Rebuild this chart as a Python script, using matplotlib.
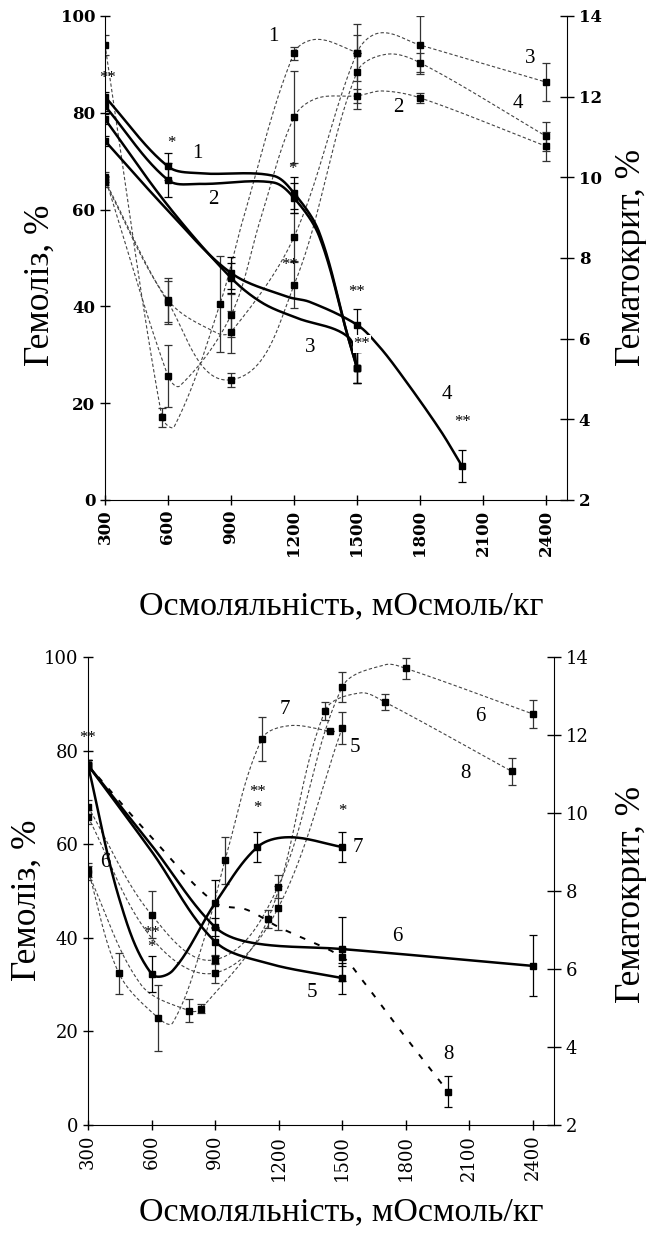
import numpy as np
import matplotlib
matplotlib.use("Agg")
import matplotlib.pyplot as plt

plt.rcParams['font.family'] = ['Liberation Serif', 'DejaVu Serif']

# points are (osmolality, value, sd); sd None -> curve knot without a marker
# upper panel, haemolysis, %
hem1 = [(300, 83.3, 1.0), (600, 68.9, 2.8), (750, 67.5, None), (1100, 67.0, None),
        (1200, 63.4, 3.3), (1320, 55.3, None), (1457, 33.7, None), (1500, 27.3, 3.2)]
hem2 = [(300, 81.4, 1.0), (600, 66.1, 3.5), (750, 65.3, None), (1100, 65.6, None),
        (1200, 62.4, 3.1), (1320, 54.5, None), (1457, 33.7, None), (1500, 27.3, 3.2)]
hem3 = [(300, 78.7, 1.0), (600, 60.8, None), (900, 45.9, 3.1), (1050, 40.7, None),
        (1214, 37.6, None), (1457, 33.7, None), (1500, 27.3, 3.2)]
hem4 = [(300, 74.2, 1.0), (600, 59.8, None), (900, 46.9, 3.3), (1167, 42.0, None),
        (1276, 40.9, None), (1500, 36.2, 3.3), (1600, 32.0, None), (1705, 26.2, None),
        (1895, 14.5, None), (2000, 7.0, 3.3)]

# upper panel, haematocrit, %
hct1 = [(300, 13.28, 0.24), (571, 4.05, 0.24), (630, 3.82, None), (848, 6.86, 1.2),
        (957, 8.95, None), (1200, 13.08, 0.16), (1310, 13.42, None), (1500, 13.09, 0)]
hct2 = [(300, 10.00, 0.12), (600, 5.07, 0.77), (657, 4.83, None), (900, 6.58, 0.53),
        (1040, 8.95, None), (1200, 11.49, 1.14), (1310, 11.96, None), (1500, 12.02, 0.18),
        (1620, 12.14, None), (1800, 11.97, 0.12), (2400, 10.77, 0.36)]
hct3 = [(300, 9.88, 0.12), (600, 6.96, 0.54), (833, 6.14, None), (900, 6.16, 0.52),
        (1200, 8.52, 0.6), (1500, 13.09, 0.7), (1610, 13.58, None), (1800, 13.28, 0.72),
        (2400, 12.36, 0.48)]
hct4 = [(300, 9.92, 0.12), (600, 6.90, 0.54), (900, 4.98, 0.17), (1200, 7.33, 0.56),
        (1500, 12.61, 0.92), (1640, 13.05, None), (1800, 12.84, 0.24), (2400, 11.02, 0.36)]

# lower panel, haemolysis, %
hem5 = [(300, 76.9, 1.0), (600, 58.5, None), (900, 39.2, 3.0), (1145, 34.6, None),
        (1500, 31.4, 3.3)]
hem6 = [(300, 76.9, 1.0), (600, 59.8, None), (900, 42.3, 2.0), (1080, 38.9, None),
        (1500, 37.6, 6.8), (2400, 34.0, 6.5)]
hem7 = [(300, 76.9, 1.0), (450, 48.0, None), (600, 32.3, 3.9), (700, 33.0, None),
        (900, 47.4, 5.0), (1100, 59.4, 3.3), (1250, 61.5, None), (1500, 59.4, 3.2)]
hem8 = [(300, 76.9, 1.0), (600, 61.5, None), (900, 47.5, None), (1050, 46.0, None),
        (1200, 42.3, None), (1500, 35.9, 2.0), (1584, 31.6, None), (1773, 20.3, None),
        (2000, 7.1, 3.3)]

# lower panel, haematocrit, %
hct5 = [(300, 9.90, 0.18), (600, 6.80, None), (900, 5.90, 0.26), (1197, 7.56, 0.56),
        (1500, 12.18, 0.42)]
hct6 = [(300, 10.16, 0.18), (600, 7.39, 0.6), (900, 6.24, 0.12), (1197, 8.11, 0.3),
        (1500, 13.23, 0.38), (1700, 13.80, None), (1800, 13.71, 0.26), (2400, 12.54, 0.36)]
hct7 = [(300, 8.54, 0.18), (446, 5.89, 0.52), (630, 4.75, 0.84), (700, 4.62, None),
        (850, 6.80, None), (947, 8.79, 0.6), (1121, 11.90, 0.56), (1250, 12.24, None),
        (1443, 12.10, 0)]
hct8 = [(300, 8.46, 0.18), (550, 5.60, None), (777, 4.93, 0.29), (834, 4.98, 0.12),
        (1150, 7.28, 0.24), (1419, 12.62, 0.23), (1584, 13.08, None), (1700, 12.85, 0.2),
        (2300, 11.07, 0.34)]

x_ticks = [300, 600, 900, 1200, 1500, 1800, 2100, 2400]
hem_ticks = [0, 20, 40, 60, 80, 100]
hct_ticks = [2, 4, 6, 8, 10, 12, 14]

# curve numbers and significance marks, placed in haemolysis coordinates
top_labels = [('1', 738, 71.5), ('2', 814, 62), ('1', 1100, 95.7), ('3', 2324, 91.3),
              ('4', 2267, 82), ('2', 1695, 81), ('3', 1276, 31.6), ('4', 1928, 21.7)]
top_stars = [('**', 312, 87.2), ('*', 614, 73.8), ('*', 1190, 68.3), ('**', 1181, 48.6),
             ('**', 1496, 43.0), ('**', 1524, 32.2), ('**', 2005, 16.1)]
bot_labels = [('6', 380, 56), ('7', 1230, 88.7), ('5', 1561, 80.6), ('6', 2151, 87.2),
              ('8', 2080, 75.2), ('7', 1575, 59.2), ('6', 1759, 40.2), ('5', 1358, 28.4),
              ('8', 2000, 15.0)]
bot_stars = [('**', 300, 82.7), ('**', 600, 41.0), ('*', 600, 38.0), ('**', 1100, 71.2),
             ('*', 1100, 67.7), ('*', 1500, 67.1)]


def unit(v):
    n = np.hypot(*v)
    return v / n if n else v


def smooth(ax, xs, ys, n=40):
    # smoothed line through the points (screen space), tangents scaled per segment
    P = ax.transData.transform(np.column_stack([xs, ys]))
    P = np.vstack([P[0], P, P[-1]])
    t = np.linspace(0, 1, n)[:, None]
    segs = []
    for i in range(1, len(P) - 2):
        p0, p1, p2, p3 = P[i - 1], P[i], P[i + 1], P[i + 2]
        L = np.hypot(*(p2 - p1)) / 3
        c1 = p1 + unit(p2 - p0) * L
        c2 = p2 - unit(p3 - p1) * L
        segs.append((1 - t) ** 3 * p1 + 3 * (1 - t) ** 2 * t * c1
                    + 3 * (1 - t) * t ** 2 * c2 + t ** 3 * p2)
    return ax.transData.inverted().transform(np.vstack(segs))


def draw(ax, pts, lw, dashes=None, color='k', ecolor='k'):
    xs = [p[0] for p in pts]
    ys = [p[1] for p in pts]
    c = smooth(ax, xs, ys)
    line, = ax.plot(c[:, 0], c[:, 1], color=color, lw=lw, zorder=3)
    if dashes:
        line.set_dashes(dashes)
    mk = [p for p in pts if p[2] is not None]
    ax.errorbar([p[0] for p in mk], [p[1] for p in mk], yerr=[p[2] for p in mk],
                fmt='s', ms=4, mfc='k', mec='k', ecolor=ecolor, elinewidth=0.9,
                capsize=3, capthick=0.9, zorder=4)


def setup(ax, bold):
    tick_font = dict(family='DejaVu Serif', fontweight='bold' if bold else 'normal',
                     fontsize=12 if bold else 13)
    ax.set_xlim(300, 2500)
    ax.set_ylim(0, 100)
    tw = ax.twinx()
    tw.set_ylim(2, 14)
    for s in ['top', 'right']:
        ax.spines[s].set_visible(False)
    for s in ['top', 'left', 'bottom']:
        tw.spines[s].set_visible(False)
    ax.set_xticks(x_ticks)
    ax.set_xticklabels([str(v) for v in x_ticks], rotation=90, **tick_font)
    ax.set_yticks(hem_ticks)
    ax.set_yticklabels([str(v) for v in hem_ticks], **tick_font)
    tw.set_yticks(hct_ticks)
    tw.set_yticklabels([str(v) for v in hct_ticks], **tick_font)
    ax.tick_params(axis='both', direction='inout', length=7, width=1)
    tw.tick_params(axis='y', direction='inout', length=10, width=1)
    return tw


fig = plt.figure(figsize=(6.46, 12.36), dpi=100)
ax1 = fig.add_axes([0.1625, 0.5955, 0.7152, 0.3916])
ax2 = fig.add_axes([0.1362, 0.0898, 0.7214, 0.3786])
tw1 = setup(ax1, True)
tw2 = setup(ax2, False)

hct_style = dict(lw=0.8, dashes=(3, 2), color='#444444', ecolor='#333333')

for s in [hct1, hct2, hct3, hct4]:
    draw(tw1, s, **hct_style)
for s in [hem1, hem2, hem3, hem4]:
    draw(ax1, s, lw=1.8)

for s in [hct5, hct6, hct7, hct8]:
    draw(tw2, s, **hct_style)
for s in [hem5, hem6, hem7]:
    draw(ax2, s, lw=1.8)
draw(ax2, hem8, lw=1.4, dashes=(3, 5))

for ax, labels, stars in [(ax1, top_labels, top_stars), (ax2, bot_labels, bot_stars)]:
    for txt, x, y in labels:
        ax.text(x, y, txt, fontsize=15, ha='center', va='center', zorder=6)
    for txt, x, y in stars:
        ax.text(x, y, txt, fontsize=12, ha='center', va='center', zorder=6)

# white patch behind the mark where curves 1-3 meet
ax1.texts[-2].set_bbox(dict(facecolor='white', edgecolor='none', pad=0.5))
for ax in (ax1, ax2):
    ax.set_zorder(tw1.get_zorder() + 1)
    ax.patch.set_visible(False)

lab = dict(fontsize=25.5, ha='center', va='center', rotation=90)
fig.text(0.063, 0.769, 'Гемоліз, %', **lab)
fig.text(0.978, 0.792, 'Гематокрит, %', **lab)
fig.text(0.529, 0.510, 'Осмоляльність, мОсмоль/кг', fontsize=24.5, ha='center', va='center')
fig.text(0.042, 0.272, 'Гемоліз, %', **lab)
fig.text(0.978, 0.276, 'Гематокрит, %', **lab)
fig.text(0.529, 0.019, 'Осмоляльність, мОсмоль/кг', fontsize=24.5, ha='center', va='center')

fig.savefig('out.png', dpi=100)
